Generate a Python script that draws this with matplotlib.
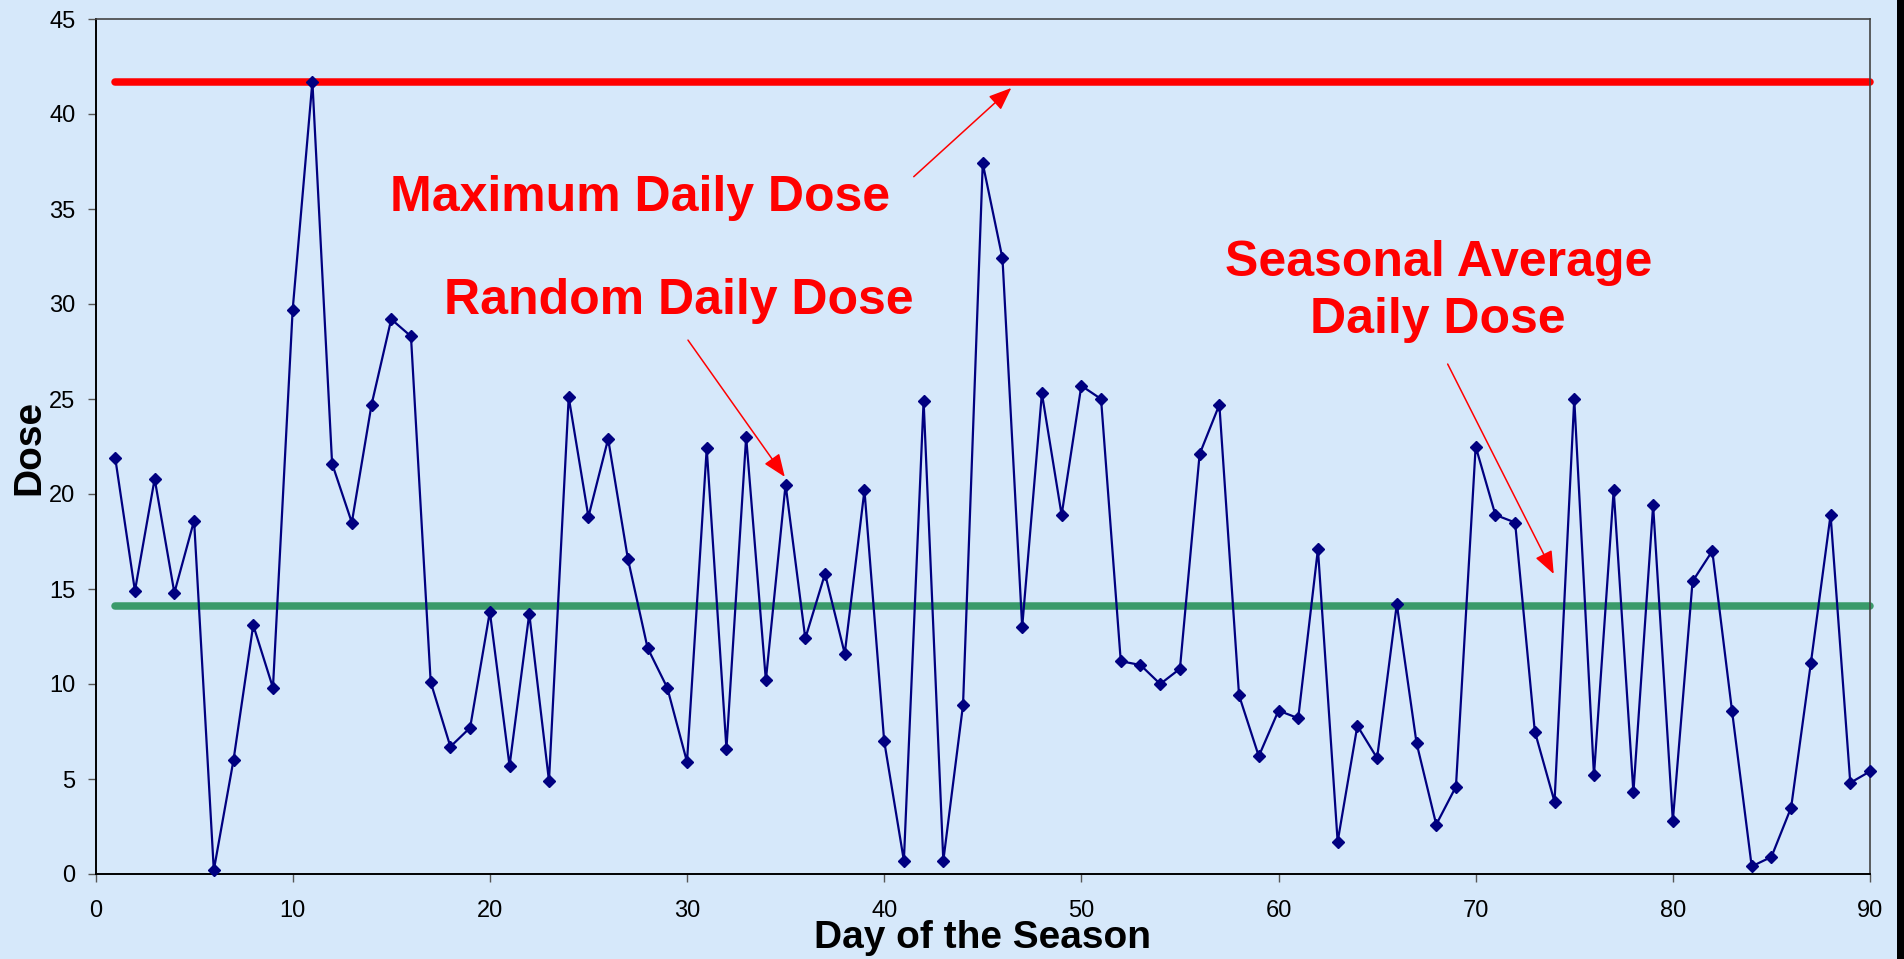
import matplotlib
matplotlib.use("Agg")
import matplotlib.pyplot as plt
import numpy as np
from matplotlib.patches import Rectangle

# daily dose, day 1..90
days = list(range(1, 91))
dose = [21.9, 14.9, 20.8, 14.8, 18.6, 0.2, 6.0, 13.1, 9.8, 29.7,
        41.7, 21.6, 18.5, 24.7, 29.2, 28.3, 10.1, 6.7, 7.7, 13.8,
        5.7, 13.7, 4.9, 25.1, 18.8, 22.9, 16.6, 11.9, 9.8, 5.9,
        22.4, 6.6, 23.0, 10.2, 20.5, 12.4, 15.8, 11.6, 20.2, 7.0,
        0.7, 24.9, 0.7, 8.9, 37.4, 32.4, 13.0, 25.3, 18.9, 25.7,
        25.0, 11.2, 11.0, 10.0, 10.8, 22.1, 24.7, 9.4, 6.2, 8.6,
        8.2, 17.1, 1.7, 7.8, 6.1, 14.2, 6.9, 2.6, 4.6, 22.5,
        18.9, 18.5, 7.5, 3.8, 25.0, 5.2, 20.2, 4.3, 19.4, 2.8,
        15.4, 17.0, 8.6, 0.4, 0.9, 3.5, 11.1, 18.9, 4.8, 5.4]

max_dose = max(dose)
avg_dose = np.mean(dose)

x_ticks = list(range(0, 91, 10))
y_ticks = list(range(0, 46, 5))

bg = "#d6e8fa"
plt.rcParams['font.family'] = ['Liberation Sans', 'DejaVu Sans']

fig = plt.figure(figsize=(19.04, 9.59), dpi=100, facecolor=bg)
ax = fig.add_axes([95.5 / 1904, 85 / 959, 1774.5 / 1904, 855 / 959])
ax.set_facecolor(bg)

# thin black strip on the right edge
fig.patches.append(Rectangle((1897 / 1904, 0), 7 / 1904, 1, transform=fig.transFigure,
                             facecolor="black", edgecolor="none"))

ax.plot([days[0], days[-1]], [max_dose, max_dose], color="#ff0000", lw=5.4,
        solid_capstyle="round", clip_on=False, zorder=2)
ax.plot([days[0], days[-1]], [avg_dose, avg_dose], color="#3a9a6a", lw=5.4,
        solid_capstyle="round", clip_on=False, zorder=2)
ax.plot(days, dose, color="#000080", lw=1.6, marker="D", ms=6.6,
        markerfacecolor="#000080", markeredgecolor="#000080", clip_on=False, zorder=3)

ax.set_xlim(0, 90)
ax.set_ylim(0, 45)
ax.set_xticks(x_ticks)
ax.set_yticks(y_ticks)
ax.tick_params(axis="both", direction="out", length=5.5, width=1, colors="#555555",
               labelcolor="black", labelsize=17)
ax.tick_params(axis="x", pad=13)
ax.tick_params(axis="y", pad=9)
for s in ["top", "right"]:
    ax.spines[s].set_color("#444444")
    ax.spines[s].set_linewidth(1.2)
for s in ["left", "bottom"]:
    ax.spines[s].set_color("black")
    ax.spines[s].set_linewidth(1.4)

fig.text(29.5 / 1904, 1 - 447 / 959, "Dose", rotation=90, ha="center", va="center",
         fontsize=28, fontweight="bold")
fig.text(982.5 / 1904, 1 - 948 / 959, "Day of the Season", ha="center", va="baseline",
         fontsize=28, fontweight="bold")

red = "#ff0000"
aprops = dict(arrowstyle="-|>,head_length=0.5,head_width=0.2", color=red, lw=1.1,
              mutation_scale=28, shrinkA=0, shrinkB=0)

ax.text(27.6, 34.9, "Maximum Daily Dose", color=red, fontsize=36, fontweight="bold",
        ha="center", va="baseline")
ax.annotate("", xy=(46.45, 41.37), xytext=(41.5, 36.7), arrowprops=aprops)

ax.text(29.6, 29.5, "Random Daily Dose", color=red, fontsize=36, fontweight="bold",
        ha="center", va="baseline")
ax.annotate("", xy=(34.96, 20.9), xytext=(30.05, 28.1), arrowprops=aprops)

ax.text(68.1, 28.47, "Seasonal Average\nDaily Dose", color=red, fontsize=36,
        fontweight="bold", ha="center", va="baseline", multialignment="center",
        linespacing=1.3)
ax.annotate("", xy=(73.96, 15.79), xytext=(68.58, 26.84), arrowprops=aprops)

fig.savefig("out.png", dpi=100, facecolor=bg)
